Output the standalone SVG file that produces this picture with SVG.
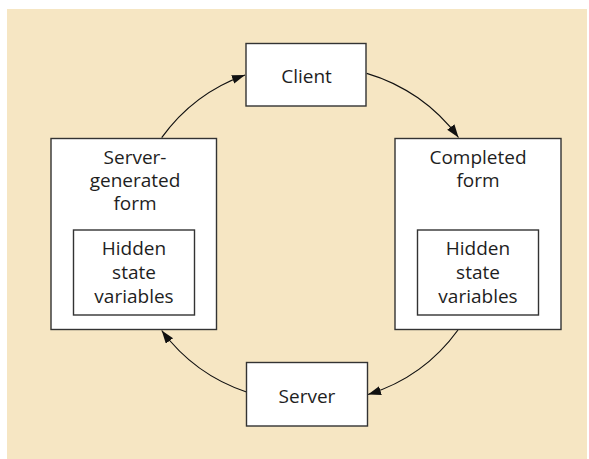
<svg xmlns="http://www.w3.org/2000/svg" width="589" height="459" viewBox="0 0 589 459">
<style>
.box{fill:#fff;stroke:#333;stroke-width:1.4}
.t{font-family:"Open Sans","Liberation Sans",sans-serif;font-size:19px;fill:#1e1e1e;text-anchor:middle}
.c{fill:none;stroke:#111;stroke-width:1.2}
</style>
<defs>
<marker id="ah" markerUnits="userSpaceOnUse" markerWidth="14" markerHeight="10" refX="13" refY="4.5" orient="auto">
<path d="M0,0 L13,4.5 L0,9 z" fill="#111"/>
</marker>
</defs>
<rect x="0" y="0" width="589" height="459" fill="#fff"/>
<rect x="7" y="9" width="580" height="450" fill="#F6E6C3"/>
<g id="connectors">
<path class="c" d="M161.7,137.7 A175,175 0 0,1 245,75" marker-end="url(#ah)"/>
<path class="c" d="M366.7,73.3 A175,175 0 0,1 458.5,137.5" marker-end="url(#ah)"/>
<path class="c" d="M458,330 A175,175 0 0,1 368,394.5" marker-end="url(#ah)"/>
<path class="c" d="M246.5,392 A175,175 0 0,1 161.7,330.5" marker-end="url(#ah)"/>
</g>
<g id="client">
<rect class="box" x="246" y="43.5" width="120" height="62.5"/>
<text class="t" x="306.5" y="82.5">Client</text>
</g>
<g id="server-form">
<rect class="box" x="51" y="138.5" width="165.5" height="191"/>
<text class="t" x="135" y="163.5">Server-</text>
<text class="t" x="135" y="186.8">generated</text>
<text class="t" x="135" y="210">form</text>
<g id="server-hidden">
<rect class="box" x="73.5" y="230" width="121" height="85"/>
<text class="t" x="134" y="255">Hidden</text>
<text class="t" x="134" y="278.5">state</text>
<text class="t" x="134" y="302.5">variables</text>
</g>
</g>
<g id="completed-form">
<rect class="box" x="395" y="138.5" width="166" height="191"/>
<text class="t" x="478" y="163.5">Completed</text>
<text class="t" x="478" y="186.8">form</text>
<g id="completed-hidden">
<rect class="box" x="417.5" y="230" width="121" height="85"/>
<text class="t" x="478" y="255">Hidden</text>
<text class="t" x="478" y="278.5">state</text>
<text class="t" x="478" y="302.5">variables</text>
</g>
</g>
<g id="server">
<rect class="box" x="246.5" y="362.5" width="121" height="63.5"/>
<text class="t" x="307" y="403">Server</text>
</g>
</svg>
